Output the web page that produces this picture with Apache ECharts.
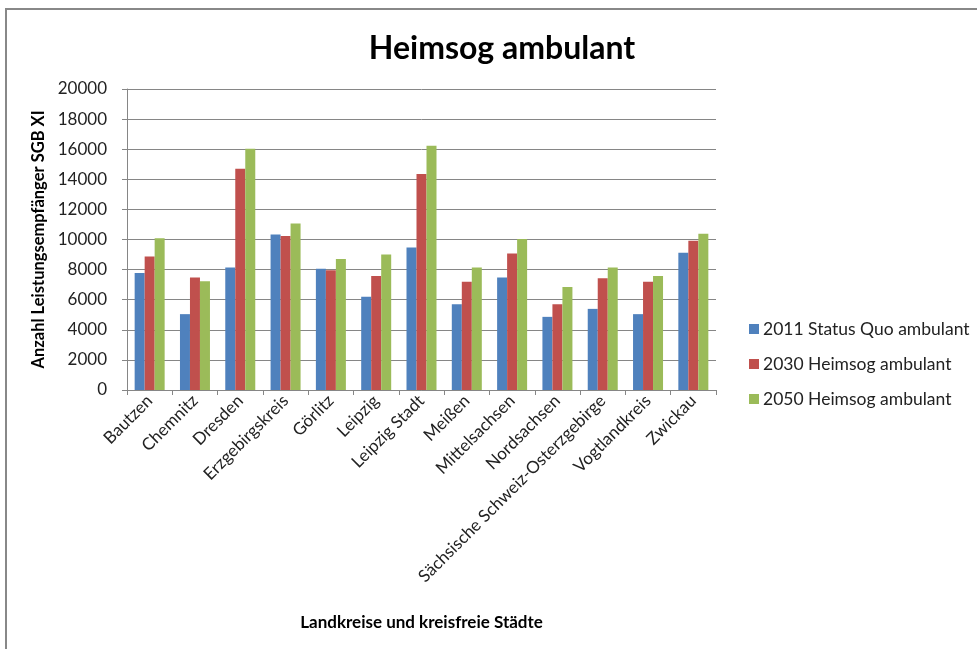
<!DOCTYPE html>
<html><head><meta charset="utf-8">
<script src="https://cdn.jsdelivr.net/npm/echarts@6/dist/echarts.min.js"></script>
<style>html,body{margin:0;padding:0;background:#fff}#c{width:977px;height:649px}</style>
</head><body><div id="c"></div>
<script>
const categories = ["Bautzen","Chemnitz","Dresden","Erzgebirgskreis","Görlitz","Leipzig","Leipzig Stadt","Meißen","Mittelsachsen","Nordsachsen","Sächsische Schweiz-Osterzgebirge","Vogtlandkreis","Zwickau"];
const seriesNames = ["2011 Status Quo ambulant","2030 Heimsog ambulant","2050 Heimsog ambulant"];
const values2011 = [7780,5040,8140,10330,8050,6190,9470,5700,7470,4860,5390,5040,9120];
const values2030 = [8870,7470,14700,10230,7960,7580,14350,7190,9070,5700,7430,7190,9910];
const values2050 = [10090,7230,16030,11060,8700,9000,16230,8140,10030,6850,8140,7580,10380];
const yTicks = {min:0, max:20000, interval:2000};
const colors = ["#4F81BD","#C0504D","#9BBB59"];
const FONT = "Lato";

const chart = echarts.init(document.getElementById('c'));
const mk = (name, data, i) => ({
  name, type:'bar', data, barWidth:10, barGap:'0%', barCategoryGap:'34%',
  itemStyle:{color:colors[i]}, emphasis:{disabled:true}
});
chart.setOption({
  animation:false,
  textStyle:{fontFamily:FONT},
  graphic:[{type:'rect', shape:{x:6,y:9,width:980,height:650}, style:{fill:'none', stroke:'#888', lineWidth:2}, silent:true}],
  title:{text:'Heimsog ambulant', left:497, top:28, textAlign:'center',
    textStyle:{fontFamily:FONT, fontSize:32, fontWeight:'bold', color:'#000'}},
  legend:{orient:'vertical', left:744, top:315, itemWidth:10, itemHeight:10, itemGap:17,
    icon:'rect', data:seriesNames,
    textStyle:{fontFamily:FONT, fontSize:17.5, color:'#222', padding:[0,0,0,-1]}},
  grid:{left:127, right:261, top:89, bottom:259, containLabel:false},
  xAxis:{type:'category', data:categories, boundaryGap:true,
    name:'Landkreise und kreisfreie Städte', nameLocation:'middle', nameGap:224,
    nameTextStyle:{fontFamily:FONT, fontSize:17, fontWeight:'bold', color:'#000'},
    axisLine:{lineStyle:{color:'#868686', width:1}},
    axisTick:{show:true, length:5, alignWithLabel:false, lineStyle:{color:'#868686'}},
    axisLabel:{rotate:45, interval:0, fontFamily:FONT, fontSize:17, color:'#222', margin:8}},
  yAxis:{type:'value', min:yTicks.min, max:yTicks.max, interval:yTicks.interval,
    name:'Anzahl Leistungsempfänger SGB XI', nameLocation:'middle', nameGap:71, nameRotate:90,
    nameTextStyle:{fontFamily:FONT, fontSize:16.5, fontWeight:'bold', color:'#000'},
    axisLine:{show:true, lineStyle:{color:'#868686'}},
    axisTick:{show:true, length:5, lineStyle:{color:'#868686'}},
    splitLine:{lineStyle:{color:'#868686', width:1}},
    axisLabel:{fontFamily:FONT, fontSize:17, color:'#222', margin:20, formatter:v=>String(v)}},
  series:[mk(seriesNames[0], values2011, 0), mk(seriesNames[1], values2030, 1), mk(seriesNames[2], values2050, 2)]
});
</script></body></html>
